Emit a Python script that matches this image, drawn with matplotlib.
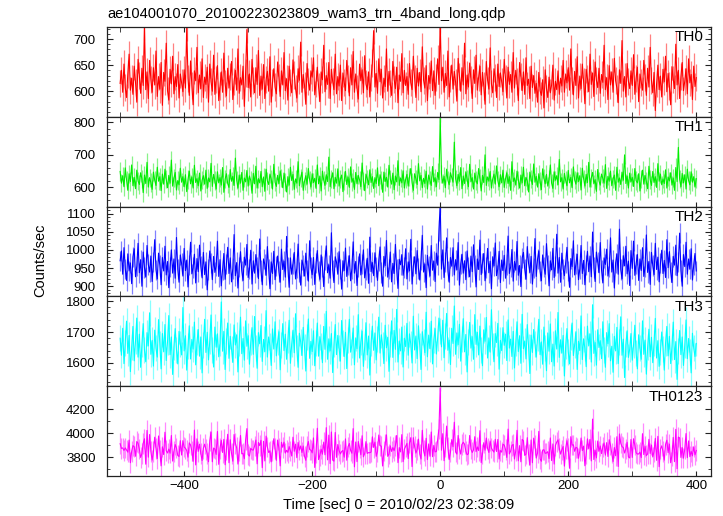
import matplotlib
matplotlib.use("Agg")
import matplotlib.pyplot as plt
import numpy as np
from matplotlib.ticker import MultipleLocator, FixedLocator

plt.rcParams['font.family'] = ['Liberation Sans', 'DejaVu Sans']

# time bins (sec from 2010/02/23 02:38:09), 2 s bins
t = np.arange(-500, 401, 2)

# count rates (counts/sec)
th0 = [615, 640, 598, 652, 607, 588, 633, 671, 602, 625, 594, 648, 617, 579, 661, 630, 596, 644, 611, 725, 603, 637, 586, 659, 622,
       598, 645, 612, 677, 590, 628, 604, 655, 573, 636, 619, 692, 601, 583, 642, 614, 667, 595, 628, 609, 651, 587, 633, 616, 599,
       641, 606, 722, 625, 592, 658, 611, 574, 639, 620, 684, 597, 631, 605, 662, 588, 627, 613, 646, 579, 652, 618, 600, 669, 594,
       623, 649, 582, 610, 637, 598, 673, 615, 591, 644, 606, 628, 657, 584, 619, 640, 602, 681, 596, 626, 612, 648, 571, 635, 718,
       607, 633, 589, 661, 620, 597, 645, 613, 678, 592, 629, 604, 651, 586, 622, 638, 600, 666, 579, 617, 643, 608, 595, 656, 626,
       590, 639, 612, 674, 601, 624, 583, 648, 616, 597, 660, 631, 605, 587, 643, 621, 694, 598, 632, 611, 575, 653, 618, 602, 639,
       627, 664, 593, 615, 646, 608, 580, 637, 622, 688, 599, 630, 613, 655, 586, 642, 619, 603, 671, 595, 628, 610, 650, 582, 635,
       617, 601, 659, 624, 591, 645, 612, 676, 598, 633, 606, 585, 652, 620, 641, 597, 668, 614, 603, 637, 589, 626, 654, 716, 608,
       634, 596, 662, 618, 642, 587, 625, 609, 681, 600, 638, 614, 592, 657, 623, 605, 646, 578, 631, 619, 672, 597, 640, 611, 628,
       594, 653, 616, 603, 667, 625, 588, 644, 610, 636, 599, 685, 621, 606, 649, 582, 630, 615, 658, 601, 639, 592, 627, 662, 613,
       735, 620, 646, 598, 634, 611, 677, 589, 625, 650, 604, 638, 617, 581, 663, 629, 600, 645, 612, 692, 595, 631, 608, 654, 622,
       586, 641, 615, 669, 602, 627, 648, 593, 636, 610, 575, 657, 621, 604, 683, 614, 597, 643, 626, 588, 652, 609, 635, 618, 599,
       661, 624, 587, 646, 613, 632, 598, 674, 606, 640, 619, 582, 655, 628, 601, 637, 594, 664, 611, 623, 586, 648, 607, 630, 596,
       615, 579, 636, 601, 592, 622, 568, 641, 605, 588, 627, 597, 612, 650, 583, 619, 603, 639, 594, 625, 610, 659, 598, 633, 616,
       645, 602, 681, 620, 593, 638, 611, 666, 587, 629, 605, 652, 618, 576, 642, 624, 599, 671, 613, 635, 590, 656, 621, 607, 644,
       596, 632, 617, 688, 603, 626, 584, 649, 612, 637, 598, 663, 620, 606, 578, 641, 615, 697, 600, 628, 589, 653, 619, 605, 639,
       611, 670, 594, 625, 646, 580, 633, 617, 602, 659, 627, 592, 644, 608, 684, 621, 597, 636, 563, 614, 650, 603, 629, 589, 642,
       618, 667, 599, 634, 610, 574, 647, 623, 605, 690, 612, 640, 586, 628, 655, 601, 619, 643, 595, 662, 616, 632, 584, 648, 609,
       626]

th1 = [648, 612, 635, 601, 659, 622, 590, 641, 617, 668, 604, 630, 595, 652, 619, 608, 644, 626, 583, 637, 611, 676, 600, 629, 614,
       593, 646, 621, 605, 661, 618, 632, 589, 640, 609, 655, 624, 598, 636, 612, 683, 603, 627, 645, 591, 620, 607, 658, 615, 632,
       601, 638, 586, 623, 649, 610, 631, 597, 667, 614, 626, 604, 643, 588, 621, 635, 609, 652, 596, 628, 616, 673, 602, 639, 620,
       594, 647, 613, 629, 606, 660, 584, 625, 641, 611, 599, 654, 618, 633, 605, 689, 622, 597, 637, 612, 645, 590, 628, 616, 651,
       603, 634, 620, 581, 642, 610, 664, 597, 626, 613, 648, 601, 631, 587, 655, 619, 608, 640, 624, 594, 670, 615, 602, 636, 611,
       650, 627, 598, 643, 616, 585, 632, 606, 661, 620, 639, 593, 625, 612, 678, 604, 629, 646, 590, 618, 635, 609, 657, 622, 600,
       641, 614, 627, 596, 668, 610, 633, 588, 649, 621, 605, 638, 617, 692, 601, 626, 644, 595, 630, 612, 656, 603, 624, 637, 586,
       620, 648, 608, 631, 599, 662, 615, 627, 593, 645, 610, 636, 622, 601, 674, 618, 589, 640, 626, 607, 653, 614, 632, 596, 629,
       611, 659, 604, 638, 622, 584, 646, 617, 630, 600, 667, 625, 609, 643, 592, 634, 616, 681, 605, 628, 613, 650, 597, 624, 639,
       603, 632, 657, 614, 590, 641, 626, 608, 672, 619, 636, 598, 627, 611, 649, 594, 637, 620, 605, 663, 616, 629, 601, 645, 623,
       812, 640, 612, 633, 598, 655, 621, 607, 644, 630, 615, 738, 626, 604, 639, 618, 660, 595, 634, 611, 647, 623, 601, 670, 616,
       629, 594, 643, 620, 610, 657, 627, 588, 636, 614, 699, 605, 631, 618, 648, 597, 625, 640, 609, 665, 620, 601, 638, 613, 652,
       599, 626, 644, 611, 632, 590, 678, 617, 628, 606, 649, 622, 597, 637, 613, 661, 604, 630, 619, 585, 646, 624, 608, 671, 615,
       633, 600, 641, 618, 592, 656, 627, 610, 639, 603, 624, 668, 612, 596, 647, 621, 635, 607, 685, 616, 629, 594, 642, 620, 604,
       651, 613, 630, 598, 662, 622, 609, 644, 617, 635, 591, 658, 626, 603, 639, 614, 676, 600, 628, 645, 610, 623, 587, 654, 619,
       606, 640, 627, 612, 669, 596, 633, 618, 649, 604, 625, 637, 590, 661, 615, 628, 608, 646, 621, 699, 611, 634, 597, 643, 616,
       630, 602, 657, 620, 613, 641, 588, 626, 652, 609, 636, 617, 595, 664, 623, 605, 648, 614, 632, 599, 672, 618, 640, 607, 625,
       611, 653, 597, 631, 619, 644, 606, 628, 590, 660, 617, 722, 624, 601, 642, 613, 638, 594, 655, 620, 607, 647, 615, 632, 600,
       626]

th2 = [970, 997, 933, 1006, 948, 916, 989, 942, 964, 907, 981, 1003, 926, 955, 1018, 937, 973, 900, 994, 951, 925, 1012, 960, 939, 983,
       913, 966, 1028, 945, 920, 991, 957, 904, 979, 942, 1010, 931, 968, 896, 953, 1000, 936, 975, 922, 1034, 947, 911, 986, 962, 928,
       1004, 943, 972, 898, 959, 1021, 934, 951, 988, 909, 976, 940, 1013, 955, 923, 993, 932, 967, 890, 946, 997, 964, 918, 982, 938,
       956, 1024, 927, 973, 901, 944, 990, 919, 961, 1007, 935, 978, 912, 949, 1042, 929, 965, 895, 953, 995, 942, 916, 980, 958, 1015,
       924, 947, 999, 906, 970, 936, 987, 953, 921, 1030, 943, 904, 975, 960, 930, 1009, 948, 893, 967, 935, 996, 918, 955, 983, 940,
       911, 1002, 946, 969, 925, 1037, 952, 897, 978, 933, 962, 993, 920, 950, 1016, 939, 903, 972, 957, 928, 991, 944, 914, 1025, 951,
       932, 979, 905, 963, 998, 941, 919, 986, 954, 899, 973, 1011, 937, 959, 922, 1047, 945, 910, 981, 966, 933, 995, 948, 892, 970,
       943, 1005, 927, 958, 984, 915, 949, 1022, 936, 968, 902, 954, 989, 931, 961, 1000, 923, 946, 977, 908, 1035, 940, 965, 929, 992,
       953, 916, 971, 1008, 938, 900, 982, 957, 1026, 925, 948, 994, 912, 963, 935, 1015, 946, 894, 974, 959, 987, 930, 951, 1003, 920,
       967, 942, 1029, 906, 955, 981, 934, 998, 949, 917, 972, 1040, 939, 961, 896, 985, 954, 928, 1012, 944, 969, 913, 991, 958, 1053,
       1125, 947, 1000, 924, 966, 1033, 942, 911, 979, 955, 1006, 931, 973, 945, 1020, 903, 961, 988, 936, 970, 918, 997, 952, 926, 983,
       940, 1014, 957, 898, 975, 946, 1027, 932, 964, 990, 915, 951, 1004, 937, 969, 893, 981, 956, 1019, 929, 948, 996, 910, 972, 943,
       985, 922, 960, 1038, 935, 953, 1001, 914, 968, 944, 1023, 930, 957, 899, 978, 993, 947, 919, 1009, 963, 938, 982, 906, 950, 1031,
       927, 974, 997, 941, 915, 986, 952, 933, 1017, 959, 901, 970, 945, 1004, 924, 956, 1043, 936, 979, 911, 991, 948, 929, 965, 1007,
       942, 897, 976, 954, 1025, 931, 962, 988, 918, 947, 1012, 935, 971, 904, 958, 996, 940, 983, 926, 1049, 951, 913, 994, 967, 937,
       1020, 945, 909, 978, 960, 1002, 928, 952, 1033, 939, 972, 895, 964, 989, 933, 1057, 946, 920, 984, 956, 1010, 934, 969, 902, 998,
       949, 1024, 930, 961, 987, 916, 975, 943, 1006, 927, 953, 1041, 938, 968, 905, 993, 957, 932, 1018, 946, 980, 912, 963, 999, 935,
       971, 924, 1028, 951, 995, 939, 910, 982, 958, 1013, 929, 966, 1046, 943, 900, 987, 954, 1021, 933, 975, 947, 1003, 917, 959, 990,
       942]

th3 = [1680, 1625, 1712, 1598, 1664, 1735, 1631, 1689, 1572, 1650, 1718, 1607, 1671, 1745, 1619, 1693, 1586, 1660, 1727, 1641, 1604, 1698, 1655, 1762, 1628,
       1673, 1590, 1706, 1647, 1619, 1740, 1662, 1581, 1695, 1636, 1724, 1608, 1669, 1753, 1627, 1684, 1563, 1652, 1711, 1643, 1597, 1702, 1661, 1626, 1779,
       1639, 1688, 1577, 1655, 1720, 1613, 1676, 1645, 1732, 1594, 1667, 1708, 1622, 1684, 1568, 1659, 1741, 1634, 1699, 1610, 1672, 1755, 1643, 1587, 1716,
       1651, 1694, 1620, 1663, 1797, 1638, 1702, 1579, 1670, 1729, 1615, 1686, 1644, 1602, 1723, 1658, 1691, 1571, 1665, 1748, 1630, 1679, 1609, 1736, 1654,
       1688, 1596, 1667, 1714, 1628, 1750, 1647, 1583, 1698, 1662, 1721, 1605, 1676, 1637, 1769, 1619, 1684, 1655, 1592, 1710, 1645, 1733, 1623, 1668, 1701,
       1578, 1657, 1727, 1640, 1693, 1612, 1674, 1738, 1599, 1661, 1706, 1633, 1759, 1648, 1586, 1696, 1668, 1624, 1715, 1651, 1574, 1683, 1742, 1615, 1670,
       1637, 1704, 1591, 1663, 1729, 1622, 1685, 1656, 1601, 1718, 1644, 1767, 1612, 1678, 1639, 1695, 1569, 1660, 1724, 1627, 1689, 1648, 1606, 1737, 1666,
       1621, 1699, 1582, 1674, 1741, 1635, 1658, 1713, 1594, 1681, 1646, 1756, 1616, 1669, 1703, 1589, 1652, 1730, 1626, 1687, 1561, 1664, 1719, 1641, 1697,
       1610, 1676, 1748, 1632, 1691, 1657, 1598, 1722, 1649, 1683, 1573, 1662, 1736, 1618, 1705, 1644, 1773, 1603, 1671, 1639, 1716, 1587, 1680, 1653, 1728,
       1625, 1694, 1661, 1600, 1751, 1642, 1687, 1614, 1720, 1655, 1579, 1701, 1668, 1633, 1764, 1620, 1690, 1646, 1735, 1597, 1675, 1711, 1629, 1682, 1745,
       1703, 1652, 1738, 1617, 1686, 1760, 1641, 1674, 1595, 1712, 1663, 1784, 1628, 1697, 1659, 1725, 1606, 1679, 1743, 1636, 1692, 1571, 1667, 1731, 1648,
       1685, 1612, 1756, 1660, 1699, 1626, 1719, 1643, 1591, 1707, 1670, 1747, 1616, 1681, 1635, 1772, 1654, 1604, 1695, 1666, 1728, 1580, 1673, 1640, 1714,
       1657, 1693, 1608, 1739, 1648, 1677, 1621, 1702, 1584, 1665, 1733, 1637, 1688, 1599, 1757, 1646, 1671, 1613, 1724, 1653, 1566, 1690, 1634, 1708, 1662,
       1619, 1682, 1741, 1627, 1668, 1596, 1716, 1649, 1575, 1697, 1638, 1726, 1604, 1661, 1590, 1704, 1645, 1763, 1618, 1675, 1632, 1689, 1558, 1656, 1711,
       1636, 1597, 1684, 1729, 1624, 1659, 1701, 1579, 1670, 1640, 1752, 1611, 1678, 1647, 1588, 1719, 1655, 1694, 1603, 1788, 1631, 1666, 1593, 1707, 1650,
       1672, 1614, 1733, 1641, 1586, 1698, 1662, 1727, 1607, 1654, 1570, 1686, 1639, 1715, 1598, 1668, 1749, 1625, 1677, 1553, 1660, 1704, 1618, 1645, 1695,
       1609, 1658, 1722, 1633, 1581, 1691, 1647, 1612, 1736, 1628, 1674, 1564, 1651, 1709, 1620, 1683, 1601, 1665, 1744, 1616, 1672, 1589, 1636, 1700, 1646,
       1577, 1664, 1718, 1623, 1686, 1598, 1653, 1732, 1611, 1669, 1547, 1640, 1705, 1627, 1684, 1592, 1657, 1739, 1614, 1679, 1635, 1568, 1696, 1648, 1621,
       1663]

# summed band = TH0 + TH1 + TH2 + TH3
th0123 = np.array(th0) + np.array(th1) + np.array(th2) + np.array(th3)

names = ['TH0', 'TH1', 'TH2', 'TH3', 'TH0123']
series = [th0, th1, th2, th3, th0123]
errs = [26, 28, 28, 42, 85]
colors = ['#ff0000', '#00ee00', '#0000ff', '#00ffff', '#ff00ff']
light = ['#ff8080', '#88f288', '#8080ff', '#88ffff', '#ff88ff']
ylims = [(551, 723), (540, 816), (872, 1119), (1525, 1815), (3645, 4390)]
ymajor = [[600, 650, 700], [600, 700, 800], [900, 950, 1000, 1050, 1100],
          [1600, 1700, 1800], [3800, 4000, 4200]]
yminor = [10, 20, 10, 20, 100]

fig = plt.figure(figsize=(7.23, 5.16), dpi=100)
left, right = 106.7 / 723, 711 / 723
top, bottom = 27 / 516, 476 / 516
h = (bottom - top) / 5

for k in range(5):
    ax = fig.add_axes([left, 1 - top - (k + 1) * h, right - left, h])
    y = np.array(series[k])
    ax.errorbar(t, y, yerr=errs[k], fmt='none', ecolor=light[k],
                elinewidth=0.9, capsize=0)
    ax.plot(t, y, color=colors[k], lw=0.8)
    ax.set_xlim(-521, 423)
    ax.set_ylim(*ylims[k])
    ax.yaxis.set_major_locator(FixedLocator(ymajor[k]))
    ax.yaxis.set_minor_locator(MultipleLocator(yminor[k]))
    ax.xaxis.set_major_locator(MultipleLocator(200))
    ax.xaxis.set_minor_locator(MultipleLocator(100))
    ax.tick_params(which='both', direction='in', top=True, right=True,
                   labelsize=9.5, colors='#222222', labelcolor='black')
    ax.tick_params(axis='y', which='major', length=4, pad=8)
    ax.tick_params(axis='y', which='minor', length=2.2)
    ax.tick_params(axis='x', which='both', length=3.6, pad=3)
    for s in ax.spines.values():
        s.set_linewidth(0.9)
        s.set_color('#222222')
    ax.text(0.987, 0.885, names[k], transform=ax.transAxes, ha='right',
            va='center', fontsize=11)
    if k < 4:
        ax.tick_params(labelbottom=False)

fig.text(0.148, 0.973, 'ae104001070_20100223023809_wam3_trn_4band_long.qdp',
         ha='left', va='center', fontsize=10.5)
fig.text(0.056, 0.496, 'Counts/sec', rotation=90, ha='center', va='center',
         fontsize=10.5)
fig.text(0.552, 0.021, 'Time [sec] 0 = 2010/02/23 02:38:09', ha='center',
         va='center', fontsize=10.5)

fig.savefig('out.png', dpi=100)
